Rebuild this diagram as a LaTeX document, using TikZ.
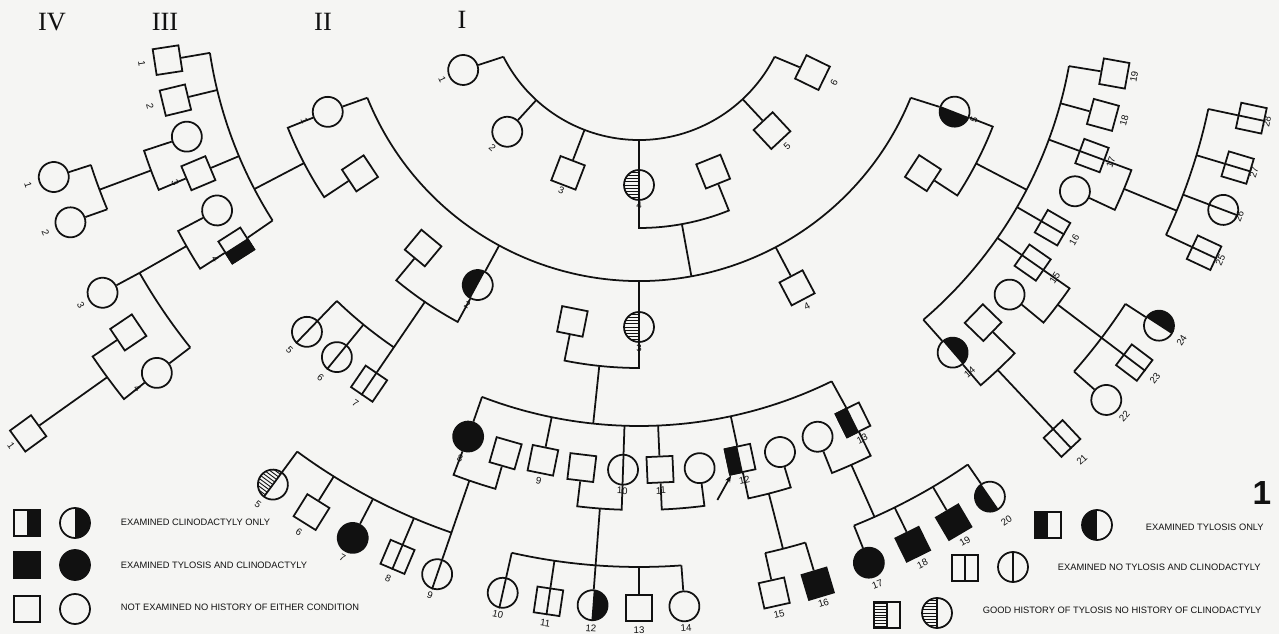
\documentclass[tikz,border=0pt]{standalone}
\usepackage{fontspec}
\setmainfont{Liberation Serif}
\setsansfont{Liberation Sans}
\usepackage{tikz}
\usetikzlibrary{arrows.meta,calc}
\definecolor{tinta}{HTML}{111111}
\definecolor{papel}{HTML}{F5F5F3}

\begin{document}
\begin{tikzpicture}[x=0.02cm,y=-0.02cm,line width=1pt,draw=tinta,
    sq/.style={draw=tinta,minimum size=0.52cm,inner sep=0pt},
    ci/.style={circle,draw=tinta,minimum size=0.6cm,inner sep=0pt},
    bk/.style={fill=tinta},
    half/.style 2 args={append after command={\pgfextra{\begin{scope}
        \clip (\tikzlastnode.center) circle[radius=#2];
        \fill[tinta] (\tikzlastnode.north) -- ($(\tikzlastnode.north)+(\tikzlastnode.#1)-(\tikzlastnode.center)$)
          -- ($(\tikzlastnode.south)+(\tikzlastnode.#1)-(\tikzlastnode.center)$) -- (\tikzlastnode.south) -- cycle;
        \end{scope}}}},
    tl/.style={half={west}{#1}},tl/.default=3mm,
    cl/.style={half={east}{#1}},cl/.default=3mm,
    sp/.style={append after command={\pgfextra{\draw[tinta] (\tikzlastnode.north) -- (\tikzlastnode.south);}}},
    hs/.style={append after command={\pgfextra{\begin{scope}
        \clip (\tikzlastnode.center) circle[radius=#1];
        \coordinate (hw1) at ($(\tikzlastnode.north)+(\tikzlastnode.west)-(\tikzlastnode.center)$);
        \coordinate (hw2) at ($(\tikzlastnode.south)+(\tikzlastnode.west)-(\tikzlastnode.center)$);
        \foreach \k in {1,...,9}
          \draw[tinta,line width=0.5pt] ($(hw1)!\k/10!(hw2)$) -- ($(\tikzlastnode.north)!\k/10!(\tikzlastnode.south)$);
        \draw[tinta] (\tikzlastnode.north) -- (\tikzlastnode.south);
        \end{scope}}}},hs/.default=3mm,
    ring/.style 2 args={rotate=90-#1,at={(#1:#2)}},
    num/.style={font=\sffamily\fontsize{5.5}{5.5}\selectfont,text=tinta,inner sep=0pt},
    key/.style={font=\sffamily\fontsize{5.3}{6}\selectfont,text=tinta,anchor=west,inner sep=0pt},
    gen/.style={font=\fontsize{15}{15}\selectfont,text=tinta,inner sep=0pt},
    >={Stealth[length=4pt]}]
  \fill[papel] (0,0) rectangle (1279,634);
  \useasboundingbox (0,0) rectangle (1279,634);

  \node[gen] (gIV) at (52,22) {IV};
  \node[gen] (gIII) at (165,22) {III};
  \node[gen] (gII) at (323,22) {II};
  \node[gen] (gI) at (462,20) {I};

  \begin{scope}[shift={(639,-12)}]
  \node[ci,ring={155}{194}] (i1) {};
  \node[ci,ring={132.5}{195}] (i2) {};
  \node[sq,ring={111}{198}] (i3) {};
  \node[ci,hs,ring={90}{197}] (i4) {};
  \node[sq,ring={68}{198}] (i4s) {};
  \node[sq,ring={47}{195}] (i5) {};
  \node[sq,ring={26}{193}] (i6) {};
  \draw (153.1:152) arc[start angle=153.1,end angle=26.9,radius=152];
  \foreach \n/\a in {i1/153.1,i2/132.5,i3/111,i4/90,i5/47,i6/26.9}
    \draw (\a:152) -- (\n);
  \draw (i4) -- (90:240) arc[start angle=90,end angle=68,radius=240] -- (i4s);
  \draw (79.7:240) -- (79.7:293);

  \node[ci,ring={158.3}{335}] (ii1) {};
  \node[sq,ring={146.4}{335}] (ii1s) {};
  \node[ci,tl,ring={118.5}{338}] (ii2) {};
  \node[sq,ring={129.7}{338}] (ii2s) {};
  \node[ci,hs,ring={90}{339}] (ii3) {};
  \node[sq,ring={101.3}{340}] (ii3s) {};
  \node[sq,ring={62.2}{339}] (ii4) {};
  \node[ci,tl,ring={21.4}{339}] (ii5) {};
  \node[sq,ring={33.1}{339}] (ii5s) {};
  \draw (158:293) arc[start angle=158,end angle=22,radius=293];
  \foreach \n/\a in {ii1/158,ii2/118.5,ii3/90,ii4/62.2,ii5/22}
    \draw (\a:293) -- (\n);
  \draw (ii1) -- (158.3:378) arc[start angle=158.3,end angle=146.4,radius=378] -- (ii1s);
  \draw (152.4:378) -- (152.4:434);
  \draw (ii2s) -- (129.7:380) arc[start angle=129.7,end angle=118.5,radius=380] -- (ii2);
  \draw (ii3s) -- (101.3:380) arc[start angle=101.3,end angle=90,radius=380] -- (ii3);
  \draw (96:380) -- (96:438);
  \draw (ii5) -- (21.4:380) arc[start angle=21.4,end angle=33.1,radius=380] -- (ii5s);
  \draw (27.5:380) -- (27.5:437);

  \node[sq,ring={171.3}{477}] (iii1) {};
  \node[sq,ring={166.4}{477}] (iii2) {};
  \node[ci,ring={161.8}{476}] (iii3s) {};
  \node[sq,ring={157.2}{478}] (iii3) {};
  \node[ci,ring={152.2}{477}] (iii4s) {};
  \node[sq,cl=5mm,ring={147.4}{478}] (iii4) {};
  \draw (171.4:434) arc[start angle=171.4,end angle=147.6,radius=434];
  \foreach \n/\a in {iii1/171.4,iii2/166.4,iii3/157.2,iii4/147.6}
    \draw (\a:434) -- (\n);
  \draw (iii3s) -- (161.8:521) arc[start angle=161.8,end angle=157.2,radius=521] -- (iii3);
  \draw (159.5:521) -- (159.5:576);
  \draw (iii4s) -- (152.2:521) arc[start angle=152.2,end angle=147.4,radius=521] -- (iii4);
  \draw (150.3:521) -- (150.3:575);

  \node[ci,ring={162.1}{615}] (iv1) {};
  \node[ci,ring={157.6}{615}] (iv2) {};
  \node[ci,ring={150.4}{617}] (iv3) {};
  \node[ci,ring={141.4}{617}] (iv4) {};
  \node[sq,ring={146}{616}] (iv4s) {};
  \node[sq,ring={143.9}{756}] (v1) {};
  \draw (162.1:576) arc[start angle=162.1,end angle=157.4,radius=576];
  \draw (150.3:575) arc[start angle=150.3,end angle=141.3,radius=575];
  \foreach \n/\a/\r in {iv1/162.1/576,iv2/157.4/576,iv3/150.3/575,iv4/141.3/575}
    \draw (\a:\r) -- (\n);
  \draw (iv4s) -- (146:659) arc[start angle=146,end angle=141.4,radius=659] -- (iv4);
  \draw (143.8:659) -- (v1);

  \node[ci,sp,ring={134}{478}] (iii5) {};
  \node[ci,sp,ring={129.3}{477}] (iii6) {};
  \node[sq,sp,ring={124.3}{479}] (iii7) {};
  \draw (134:435) arc[start angle=134,end angle=124.3,radius=435];
  \foreach \n/\a in {iii5/134,iii6/129.3}
    \draw (\a:435) -- (\n);
  \draw (124.3:380) -- (iii7);

  \node[ci,bk,ring={110.85}{480}] (iii8) {};
  \node[sq,ring={106}{484}] (iii8s) {};
  \node[sq,ring={101.5}{482}] (iii9) {};
  \node[sq,ring={96.8}{483}] (iii10s) {};
  \node[ci,sp,ring={91.9}{482}] (iii10) {};
  \node[sq,ring={87.5}{482}] (iii11) {};
  \node[ci,ring={82.8}{484}] (iii11s) {};
  \node[sq,tl=5mm,ring={77.9}{482}] (iii12) {};
  \node[ci,ring={73.1}{485}] (iii12s) {};
  \node[ci,ring={68.3}{483}] (iii13s) {};
  \node[sq,tl=5mm,ring={63.65}{482}] (iii13) {};
  \draw (111:438) arc[start angle=111,end angle=63.9,radius=438];
  \foreach \n/\a in {iii8/111,iii9/101.5,iii10/91.9,iii11/87.5,iii12/77.9,iii13/63.9}
    \draw (\a:438) -- (\n);
  \draw (iii8) -- (110.85:521) arc[start angle=110.85,end angle=106,radius=521] -- (iii8s);
  \draw (iii10s) -- (96.8:522) arc[start angle=96.8,end angle=91.9,radius=522] -- (iii10);
  \draw (iii11) -- (87.5:522) arc[start angle=87.5,end angle=82.8,radius=522] -- (iii11s);
  \draw (iii12) -- (77.9:522) arc[start angle=77.9,end angle=73.1,radius=522] -- (iii12s);
  \draw (75.6:522) -- (75.6:579);
  \draw (iii13s) -- (68.3:522) arc[start angle=68.3,end angle=63.65,radius=522] -- (iii13);
  \draw (66:522) -- (66:579);
  \coordinate (pa) at (81.3:518);
  \draw[->] (pa) -- (iii12);

  \node[ci,hs,ring={126.4}{617}] (iv5) {};
  \node[sq,ring={122}{618}] (iv6) {};
  \node[ci,bk,ring={117.5}{620}] (iv7) {};
  \node[sq,sp,ring={113}{618}] (iv8) {};
  \node[ci,sp,ring={109}{620}] (iv9) {};
  \draw (126.4:576) arc[start angle=126.4,end angle=109,radius=576];
  \foreach \n/\a in {iv5/126.4,iv6/122,iv7/117.5,iv8/113}
    \draw (\a:576) -- (\n);
  \draw (109:521) -- (iv9);

  \node[ci,sp,ring={102.7}{620}] (iv10) {};
  \node[sq,sp,ring={98.4}{620}] (iv11) {};
  \node[ci,cl,ring={94.3}{619}] (iv12) {};
  \node[sq,ring={90}{620}] (iv13) {};
  \node[ci,ring={85.8}{620}] (iv14) {};
  \draw (102.7:579) arc[start angle=102.7,end angle=85.8,radius=579];
  \foreach \n/\a in {iv10/102.7,iv11/98.4,iv13/90,iv14/85.8}
    \draw (\a:579) -- (\n);
  \draw (94.3:522) -- (iv12);

  \node[sq,ring={77.4}{620}] (iv15) {};
  \node[sq,bk,ring={73.3}{622}] (iv16) {};
  \draw (77.4:579) arc[start angle=77.4,end angle=73.3,radius=579];
  \foreach \n/\a in {iv15/77.4,iv16/73.3}
    \draw (\a:579) -- (\n);

  \node[ci,bk,ring={68.2}{619}] (iv17) {};
  \node[sq,bk,ring={63.8}{620}] (iv18) {};
  \node[sq,bk,ring={59.5}{620}] (iv19) {};
  \node[ci,tl,ring={55.4}{618}] (iv20) {};
  \draw (68.2:579) arc[start angle=68.2,end angle=55.4,radius=579];
  \foreach \n/\a in {iv17/68.2,iv18/63.8,iv19/59.5,iv20/55.4}
    \draw (\a:579) -- (\n);

  \node[sq,ring={10.2}{483}] (iii19) {};
  \node[sq,ring={15.3}{481}] (iii18) {};
  \node[sq,sp,ring={20.3}{483}] (iii17) {};
  \node[ci,ring={25}{481}] (iii17s) {};
  \node[sq,sp,ring={30.1}{478}] (iii16) {};
  \node[sq,sp,ring={34.9}{480}] (iii15) {};
  \node[ci,ring={39.6}{481}] (iii15s) {};
  \node[sq,ring={44.2}{480}] (iii14s) {};
  \node[ci,cl,ring={49.3}{481}] (iii14) {};
  \draw (10.3:437) arc[start angle=10.3,end angle=49.4,radius=437];
  \foreach \n/\a in {iii19/10.3,iii18/15.3,iii17/20.3,iii16/30.1,iii15/34.9,iii14/49.4}
    \draw (\a:437) -- (\n);
  \draw (iii17) -- (20.3:525) arc[start angle=20.3,end angle=25,radius=525] -- (iii17s);
  \draw (22.5:525) -- (22.5:582);
  \draw (iii15) -- (34.9:525) arc[start angle=34.9,end angle=39.6,radius=525] -- (iii15s);
  \draw (iii14s) -- (44.2:524) arc[start angle=44.2,end angle=49.3,radius=524] -- (iii14);

  \node[sq,sp,ring={12}{626}] (iv28) {};
  \node[sq,sp,ring={16.7}{625}] (iv27) {};
  \node[ci,sp,ring={20.8}{625}] (iv26) {};
  \node[sq,sp,ring={25.1}{624}] (iv25) {};
  \draw (12:582) arc[start angle=12,end angle=25.1,radius=582];
  \foreach \n/\a in {iv28/12,iv27/16.7,iv26/20.8,iv25/25.1}
    \draw (\a:582) -- (\n);

  \node[ci,cl,ring={33}{620}] (iv24) {};
  \node[sq,sp,ring={37.1}{621}] (iv23) {};
  \node[ci,ring={41.4}{623}] (iv22) {};
  \node[sq,sp,ring={46.8}{618}] (iv21) {};
  \draw (33:580) arc[start angle=33,end angle=41.4,radius=580];
  \foreach \n/\a in {iv24/33,iv22/41.4}
    \draw (\a:580) -- (\n);
  \draw (37.1:525) -- (iv23);
  \draw (46.8:524) -- (iv21);

  \foreach \a/\t in {155/1,132.5/2,111/3,90/4,47/5,26/6}
    \node[num,ring={\a}{217}] (nI\t) {\t};
  \foreach \a/\t in {158.3/1,118.5/2,90/3,62.2/4,21.4/5}
    \node[num,ring={\a}{360}] (nII\t) {\t};
  \foreach \a/\t in {171.3/1,166.4/2,157.2/3,147.4/4,134/5,129.3/6,124.3/7,110.85/8,101.5/9,
                     91.9/10,87.5/11,77.9/12,63.65/13,30.1/16,20.3/17,15.3/18,10.2/19}
    \node[num,ring={\a}{503}] (nIII\t) {\t};
  \foreach \a/\t in {49.3/14,34.9/15}
    \node[num,ring={\a}{507}] (nIII\t) {\t};
  \foreach \a/\t in {162.1/1,157.6/2,150.4/3,141.4/4,126.4/5,122/6,117.5/7,113/8,109/9,
                     102.7/10,98.4/11,94.3/12,90/13,85.8/14,77.4/15,73.3/16,68.2/17,63.8/18,
                     59.5/19,25.1/25,20.8/26,16.7/27,12/28}
    \node[num,ring={\a}{642}] (nIV\t) {\t};
  \foreach \a/\t in {55.4/20,46.8/21,41.4/22,37.1/23,33/24}
    \node[num,ring={\a}{647}] (nIV\t) {\t};
  \node[num,ring={143.9}{777}] (nV1) {1};
  \end{scope}

  \node[sq,cl=5mm] (k1s) at (27,523) {};
  \node[ci,cl] (k1c) at (75,523) {};
  \node[key] (k1t) at (120,522) {EXAMINED CLINODACTYLY ONLY};
  \node[sq,bk] (k2s) at (27,565) {};
  \node[ci,bk] (k2c) at (75,565) {};
  \node[key] (k2t) at (120,565) {EXAMINED TYLOSIS AND CLINODACTYLY};
  \node[sq] (k3s) at (27,609) {};
  \node[ci] (k3c) at (75,609) {};
  \node[key] (k3t) at (120,607) {NOT EXAMINED NO HISTORY OF EITHER CONDITION};

  \node[sq,tl=5mm] (k4s) at (1048,525) {};
  \node[ci,tl] (k4c) at (1097,525) {};
  \node[key] (k4t) at (1145,527) {EXAMINED TYLOSIS ONLY};
  \node[sq,sp] (k5s) at (965,568) {};
  \node[ci,sp] (k5c) at (1013,567) {};
  \node[key] (k5t) at (1057,567) {EXAMINED NO TYLOSIS AND CLINODACTYLY};
  \node[sq,hs=5mm] (k6s) at (887,615) {};
  \node[ci,hs] (k6c) at (937,613) {};
  \node[key] (k6t) at (982,610) {GOOD HISTORY OF TYLOSIS NO HISTORY OF CLINODACTYLY};
  \node[font=\sffamily\bfseries\fontsize{19}{19}\selectfont,text=tinta] (fig) at (1262,493) {1};
\end{tikzpicture}
\end{document}
